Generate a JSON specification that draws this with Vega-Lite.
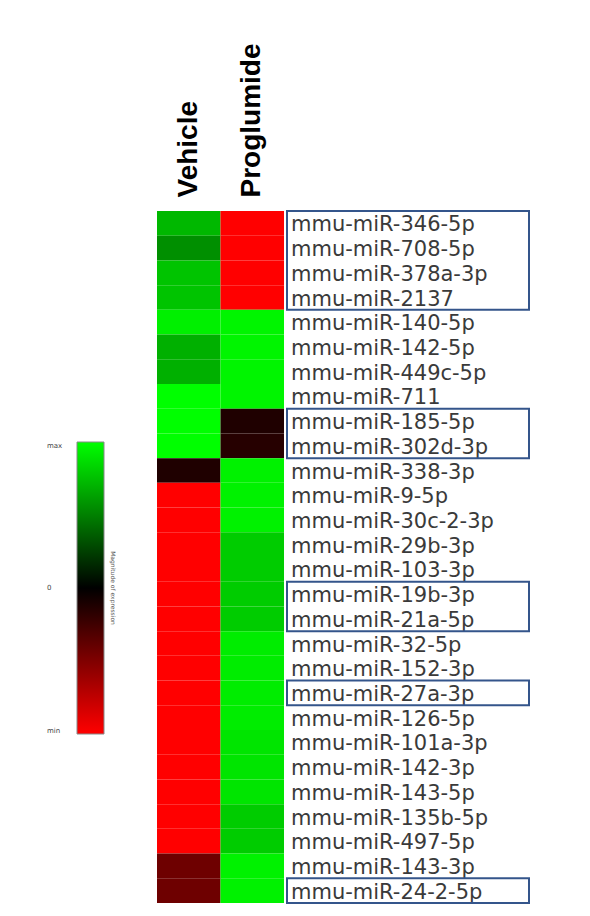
{
  "$schema": "https://vega.github.io/schema/vega-lite/v6.json",
  "autosize": {"type": "pad"},
  "padding": {"left": 77, "top": 42, "right": 0, "bottom": 0},
  "background": "white",
  "config": {"view": {"stroke": null}, "concat": {"spacing": 2}},
  "datasets": {
    "cells": [
      {"mirna": "mmu-miR-346-5p", "group": "Vehicle", "value": 0.72},
      {"mirna": "mmu-miR-346-5p", "group": "Proglumide", "value": -1},
      {"mirna": "mmu-miR-708-5p", "group": "Vehicle", "value": 0.56},
      {"mirna": "mmu-miR-708-5p", "group": "Proglumide", "value": -1},
      {"mirna": "mmu-miR-378a-3p", "group": "Vehicle", "value": 0.77},
      {"mirna": "mmu-miR-378a-3p", "group": "Proglumide", "value": -1},
      {"mirna": "mmu-miR-2137", "group": "Vehicle", "value": 0.77},
      {"mirna": "mmu-miR-2137", "group": "Proglumide", "value": -1},
      {"mirna": "mmu-miR-140-5p", "group": "Vehicle", "value": 0.94},
      {"mirna": "mmu-miR-140-5p", "group": "Proglumide", "value": 0.96},
      {"mirna": "mmu-miR-142-5p", "group": "Vehicle", "value": 0.69},
      {"mirna": "mmu-miR-142-5p", "group": "Proglumide", "value": 0.96},
      {"mirna": "mmu-miR-449c-5p", "group": "Vehicle", "value": 0.69},
      {"mirna": "mmu-miR-449c-5p", "group": "Proglumide", "value": 0.96},
      {"mirna": "mmu-miR-711", "group": "Vehicle", "value": 1.0},
      {"mirna": "mmu-miR-711", "group": "Proglumide", "value": 0.96},
      {"mirna": "mmu-miR-185-5p", "group": "Vehicle", "value": 1.0},
      {"mirna": "mmu-miR-185-5p", "group": "Proglumide", "value": -0.12},
      {"mirna": "mmu-miR-302d-3p", "group": "Vehicle", "value": 1.0},
      {"mirna": "mmu-miR-302d-3p", "group": "Proglumide", "value": -0.15},
      {"mirna": "mmu-miR-338-3p", "group": "Vehicle", "value": -0.12},
      {"mirna": "mmu-miR-338-3p", "group": "Proglumide", "value": 0.95},
      {"mirna": "mmu-miR-9-5p", "group": "Vehicle", "value": -1},
      {"mirna": "mmu-miR-9-5p", "group": "Proglumide", "value": 0.95},
      {"mirna": "mmu-miR-30c-2-3p", "group": "Vehicle", "value": -1},
      {"mirna": "mmu-miR-30c-2-3p", "group": "Proglumide", "value": 0.95},
      {"mirna": "mmu-miR-29b-3p", "group": "Vehicle", "value": -1},
      {"mirna": "mmu-miR-29b-3p", "group": "Proglumide", "value": 0.8},
      {"mirna": "mmu-miR-103-3p", "group": "Vehicle", "value": -1},
      {"mirna": "mmu-miR-103-3p", "group": "Proglumide", "value": 0.8},
      {"mirna": "mmu-miR-19b-3p", "group": "Vehicle", "value": -1},
      {"mirna": "mmu-miR-19b-3p", "group": "Proglumide", "value": 0.8},
      {"mirna": "mmu-miR-21a-5p", "group": "Vehicle", "value": -1},
      {"mirna": "mmu-miR-21a-5p", "group": "Proglumide", "value": 0.8},
      {"mirna": "mmu-miR-32-5p", "group": "Vehicle", "value": -1},
      {"mirna": "mmu-miR-32-5p", "group": "Proglumide", "value": 0.93},
      {"mirna": "mmu-miR-152-3p", "group": "Vehicle", "value": -1},
      {"mirna": "mmu-miR-152-3p", "group": "Proglumide", "value": 0.93},
      {"mirna": "mmu-miR-27a-3p", "group": "Vehicle", "value": -1},
      {"mirna": "mmu-miR-27a-3p", "group": "Proglumide", "value": 0.93},
      {"mirna": "mmu-miR-126-5p", "group": "Vehicle", "value": -1},
      {"mirna": "mmu-miR-126-5p", "group": "Proglumide", "value": 0.93},
      {"mirna": "mmu-miR-101a-3p", "group": "Vehicle", "value": -1},
      {"mirna": "mmu-miR-101a-3p", "group": "Proglumide", "value": 0.9},
      {"mirna": "mmu-miR-142-3p", "group": "Vehicle", "value": -1},
      {"mirna": "mmu-miR-142-3p", "group": "Proglumide", "value": 0.9},
      {"mirna": "mmu-miR-143-5p", "group": "Vehicle", "value": -1},
      {"mirna": "mmu-miR-143-5p", "group": "Proglumide", "value": 0.9},
      {"mirna": "mmu-miR-135b-5p", "group": "Vehicle", "value": -1},
      {"mirna": "mmu-miR-135b-5p", "group": "Proglumide", "value": 0.8},
      {"mirna": "mmu-miR-497-5p", "group": "Vehicle", "value": -1},
      {"mirna": "mmu-miR-497-5p", "group": "Proglumide", "value": 0.8},
      {"mirna": "mmu-miR-143-3p", "group": "Vehicle", "value": -0.43},
      {"mirna": "mmu-miR-143-3p", "group": "Proglumide", "value": 0.95},
      {"mirna": "mmu-miR-24-2-5p", "group": "Vehicle", "value": -0.43},
      {"mirna": "mmu-miR-24-2-5p", "group": "Proglumide", "value": 0.95}
    ],
    "boxes": [
      {"first": "mmu-miR-346-5p", "last": "mmu-miR-2137"},
      {"first": "mmu-miR-185-5p", "last": "mmu-miR-302d-3p"},
      {"first": "mmu-miR-19b-3p", "last": "mmu-miR-21a-5p"},
      {"first": "mmu-miR-27a-3p", "last": "mmu-miR-27a-3p"},
      {"first": "mmu-miR-24-2-5p", "last": "mmu-miR-24-2-5p"}
    ]
  },
  "hconcat": [
    {
      "width": 127,
      "height": 692,
      "data": {"name": "cells"},
      "mark": {"type": "rect"},
      "encoding": {
        "x": {
          "field": "group", "type": "nominal", "sort": ["Vehicle", "Proglumide"],
          "scale": {"paddingInner": 0, "paddingOuter": 0},
          "axis": {"orient": "top", "title": null, "labelAngle": -90, "labelFont": "Liberation Sans", "labelFontSize": 28, "labelFontWeight": "bold", "labelColor": "#000000", "ticks": false, "domain": false, "labelPadding": 14}
        },
        "y": {
          "field": "mirna", "type": "nominal",
          "scale": {"paddingInner": 0, "paddingOuter": 0, "domain": ["mmu-miR-346-5p","mmu-miR-708-5p","mmu-miR-378a-3p","mmu-miR-2137","mmu-miR-140-5p","mmu-miR-142-5p","mmu-miR-449c-5p","mmu-miR-711","mmu-miR-185-5p","mmu-miR-302d-3p","mmu-miR-338-3p","mmu-miR-9-5p","mmu-miR-30c-2-3p","mmu-miR-29b-3p","mmu-miR-103-3p","mmu-miR-19b-3p","mmu-miR-21a-5p","mmu-miR-32-5p","mmu-miR-152-3p","mmu-miR-27a-3p","mmu-miR-126-5p","mmu-miR-101a-3p","mmu-miR-142-3p","mmu-miR-143-5p","mmu-miR-135b-5p","mmu-miR-497-5p","mmu-miR-143-3p","mmu-miR-24-2-5p"]},
          "axis": null
        },
        "color": {
          "field": "value", "type": "quantitative",
          "scale": {"domain": [-1, 0, 1], "range": ["#ff0000", "#000000", "#00ff00"], "interpolate": "rgb"},
          "legend": {
            "orient": "none", "legendX": -80, "legendY": 231, "direction": "vertical",
            "gradientLength": 292, "gradientThickness": 27,
            "gradientStrokeColor": "#888888", "gradientStrokeWidth": 1,
            "values": [-1, 0, 1],
            "labelExpr": "datum.value > 0 ? 'max' : (datum.value < 0 ? 'min' : '0')",
            "labelFont": "DejaVu Sans", "labelFontSize": 7, "labelColor": "#444444",
            "labelOffset": -57, "labelAlign": "right",
            "title": "Magnitude of expression", "titleOrient": "right", "titleFont": "DejaVu Sans",
            "titleFontSize": 6, "titleFontWeight": "normal", "titleColor": "#555555", "titleAnchor": "middle",
            "padding": 0
          }
        }
      }
    },
    {
      "width": 242,
      "height": 692,
      "layer": [
        {
          "data": {"name": "cells"},
          "transform": [{"filter": "datum.group === 'Vehicle'"}],
          "mark": {"type": "text", "align": "left", "baseline": "middle", "dx": 4, "dy": 2, "font": "DejaVu Sans", "fontSize": 21, "color": "#3a3a3a"},
          "encoding": {
            "x": {"datum": 0, "type": "quantitative", "scale": {"domain": [0, 1]}, "axis": null},
            "y": {
              "field": "mirna", "type": "nominal",
              "scale": {"paddingInner": 0, "paddingOuter": 0, "domain": ["mmu-miR-346-5p","mmu-miR-708-5p","mmu-miR-378a-3p","mmu-miR-2137","mmu-miR-140-5p","mmu-miR-142-5p","mmu-miR-449c-5p","mmu-miR-711","mmu-miR-185-5p","mmu-miR-302d-3p","mmu-miR-338-3p","mmu-miR-9-5p","mmu-miR-30c-2-3p","mmu-miR-29b-3p","mmu-miR-103-3p","mmu-miR-19b-3p","mmu-miR-21a-5p","mmu-miR-32-5p","mmu-miR-152-3p","mmu-miR-27a-3p","mmu-miR-126-5p","mmu-miR-101a-3p","mmu-miR-142-3p","mmu-miR-143-5p","mmu-miR-135b-5p","mmu-miR-497-5p","mmu-miR-143-3p","mmu-miR-24-2-5p"]},
              "axis": null
            },
            "text": {"field": "mirna"}
          }
        },
        {
          "data": {"name": "boxes"},
          "mark": {"type": "rect", "fill": "transparent", "stroke": "#34558b", "strokeWidth": 2},
          "encoding": {
            "y": {"field": "first", "type": "nominal", "bandPosition": 0},
            "y2": {"field": "last", "bandPosition": 1}
          }
        }
      ]
    }
  ]
}
